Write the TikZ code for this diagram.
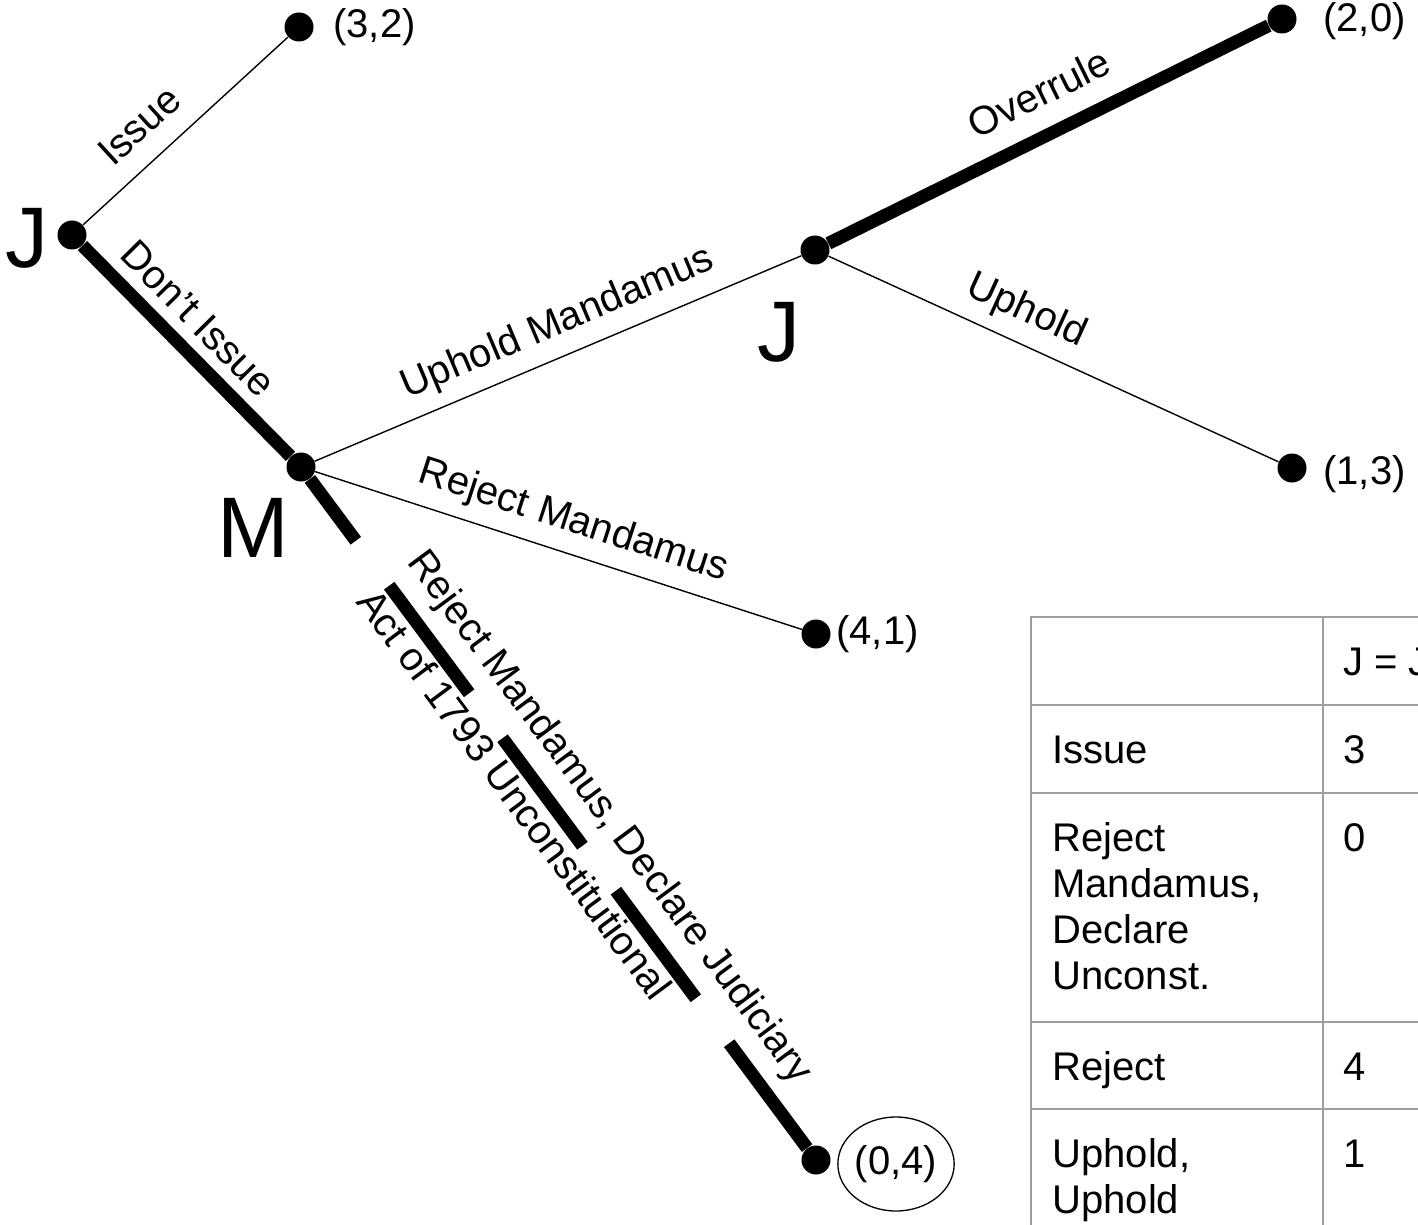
\documentclass[tikz,border=0pt]{standalone}
\usepackage{fontspec}
\setmainfont{Liberation Sans}
\usetikzlibrary{shapes.geometric}
\definecolor{tablegray}{RGB}{158,158,158}

\begin{document}
\begin{tikzpicture}[x=0.5pt,y=-0.5pt,
   vtx/.style={circle,fill=black,inner sep=0pt,minimum size=14.5pt},
   thinedge/.style={line width=0.7pt},
   thickedge/.style={line width=6.5pt},
   lab/.style={font=\fontsize{20}{24}\selectfont,sloped,inner sep=8pt,text height=0.75em,text depth=0.25em},
   payoff/.style={font=\fontsize{20}{24}\selectfont,anchor=west,inner sep=0pt},
   player/.style={font=\fontsize{43}{50}\selectfont,inner sep=0pt},
   cell/.style={font=\fontsize{20}{23}\selectfont,anchor=base west,inner sep=0pt,align=left},
   tabline/.style={draw=tablegray,line width=0.75pt}]
   \useasboundingbox (0,0) rectangle (1418,1225);
   \clip (0,0) rectangle (1418,1225);
   % decision points and outcomes
    \node[vtx] (j1) at (72,235) {};
    \node[vtx] (m) at (301,467) {};
    \node[vtx] (j2) at (815,250) {};
    \node[vtx] (p32) at (299,27) {};
    \node[vtx] (p20) at (1282,19) {};
    \node[vtx] (p13) at (1292,468) {};
    \node[vtx] (p41) at (816,634) {};
    \node[vtx] (p04) at (816,1160) {};
    \node[player] (lj1) at (27,238) {J};
    \node[player] (lm) at (253,528) {M};
    \node[player] (lj2) at (779,332) {J};
    \node[payoff] (t32) at (333,27) {(3,2)};
    \node[payoff] (t20) at (1323,21) {(2,0)};
    \node[payoff] (t13) at (1323,474) {(1,3)};
    \node[payoff] (t41) at (836,634) {(4,1)};
    \node[payoff,anchor=center,ellipse,draw,line width=0.65pt,minimum width=57pt,minimum height=47pt] (t04) at (896,1164) {(0,4)};
   % moves
    \draw[thinedge] (j1) -- node[lab,above,pos=0.39] {Issue} (p32);
    \draw[thickedge] (j1) -- node[lab,above,pos=0.45,inner sep=3pt] {Don’t Issue} (m);
    \draw[thinedge] (m) -- node[lab,above,pos=0.525] {Uphold Mandamus} (j2);
    \draw[thinedge] (m) -- node[lab,above,pos=0.51] {Reject Mandamus} (p41);
    \draw[thickedge,dash pattern=on 67pt off 28pt,dash phase=28.5pt] (m) -- node[lab,above,pos=0.54] {Reject Mandamus, Declare Judiciary} node[lab,below,pos=0.45] {Act of 1793 Unconstitutional} (p04);
    \draw[thickedge] (j2) -- node[lab,above,pos=0.52] {Overrule} (p20);
    \draw[thinedge] (j2) -- node[lab,above,pos=0.41] {Uphold} (p13);
   % payoff table
    \draw[tabline] (1031,1240) -- (1031,617) -- (1440,617);
    \draw[tabline] (1323,617) -- (1323,1240);
    \draw[tabline] (1031,705) -- (1440,705);
    \draw[tabline] (1031,793) -- (1440,793);
    \draw[tabline] (1031,1022) -- (1440,1022);
    \draw[tabline] (1031,1109) -- (1440,1109);
    \node[cell] (hj) at (1343,675) {J = J};
    \node[cell] (ci) at (1052,763) {Issue};
    \node[cell] (cr) at (1052,989) {Reject\\Mandamus,\\Declare\\Unconst.};
    \node[cell] (cj) at (1052,1080) {Reject};
    \node[cell] (cu) at (1052,1213) {Uphold,\\Uphold};
    \node[cell] (vi) at (1343,763) {3};
    \node[cell] (vr) at (1343,851) {0};
    \node[cell] (vj) at (1343,1080) {4};
    \node[cell] (vu) at (1343,1167) {1};
  \end{tikzpicture}
\end{document}
